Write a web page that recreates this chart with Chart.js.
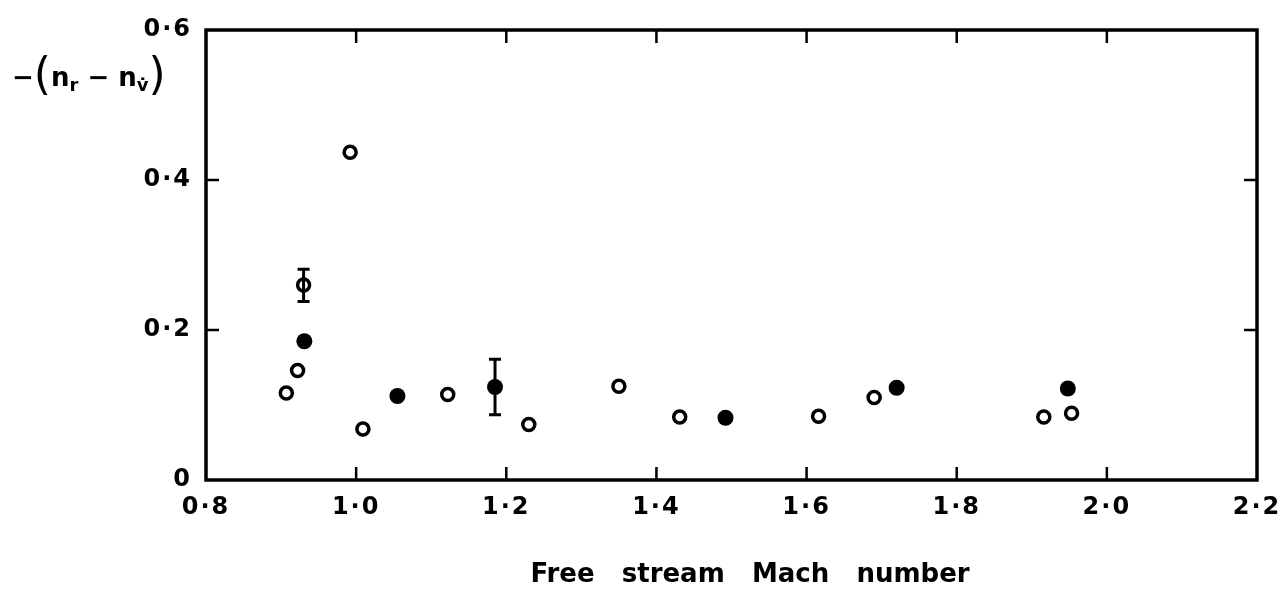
<!DOCTYPE html>
<html>
<head>
<meta charset="utf-8">
<script src="https://cdn.jsdelivr.net/npm/chart.js@4.4.1/dist/chart.umd.min.js"></script>
<style>
  body { margin: 0; background: #fff; }
  #wrap { position: relative; width: 1287px; height: 590px; }
  #ylab {
    position: absolute; left: 12px; top: 46px;
    font-family: "DejaVu Sans", sans-serif; font-weight: bold; font-size: 26px;
    color: #000; white-space: nowrap; line-height: 56px;
  }
  #ylab .par { font-size: 44px; font-weight: normal; vertical-align: -3px; }
  #ylab sub { font-size: 18px; vertical-align: -5px; }
</style>
</head>
<body>
<div id="wrap">
  <canvas id="chart" width="1287" height="590"></canvas>
  <div id="ylab">−<span class="par">(</span>n<sub>r</sub> − n<sub>v̇</sub><span class="par">)</span></div>
</div>
<script>
// data
const open_x = [0.907, 0.922, 0.930, 0.992, 1.009, 1.122, 1.230, 1.350, 1.431, 1.616, 1.690, 1.916, 1.953];
const open_y = [0.116, 0.146, 0.260, 0.437, 0.068, 0.114, 0.074, 0.125, 0.084, 0.085, 0.110, 0.084, 0.089];
const filled_x = [0.931, 1.055, 1.185, 1.492, 1.720, 1.948];
const filled_y = [0.185, 0.112, 0.124, 0.083, 0.123, 0.122];
// error bars: x, low, high
const err_x = [0.930, 1.185];
const err_lo = [0.238, 0.087];
const err_hi = [0.281, 0.161];
const x_ticks = [0.8, 1.0, 1.2, 1.4, 1.6, 1.8, 2.0, 2.2];
const y_ticks = [0, 0.2, 0.4, 0.6];
const x_title = 'Free   stream   Mach   number';

function fmt(v) {
  if (Math.abs(v) < 1e-9) return '0';
  return v.toFixed(1).replace('.', '·');
}

// frame, inward ticks, error bars and x title
const framePlugin = {
  id: 'frame',
  beforeDraw(chart) {
    // wider lettering for tick labels
    chart.ctx.letterSpacing = '2px';
  },
  afterDatasetsDraw(chart) {
    const ctx = chart.ctx;
    const a = chart.chartArea;
    const xs = chart.scales.x, ys = chart.scales.y;
    ctx.save();
    ctx.strokeStyle = '#000';
    ctx.lineWidth = 3.5;
    ctx.strokeRect(a.left, a.top, a.right - a.left, a.bottom - a.top);
    ctx.lineWidth = 2.5;
    const len = 13;
    x_ticks.slice(1, -1).forEach(v => {
      const px = xs.getPixelForValue(v);
      ctx.beginPath();
      ctx.moveTo(px, a.bottom); ctx.lineTo(px, a.bottom - len);
      ctx.moveTo(px, a.top); ctx.lineTo(px, a.top + len);
      ctx.stroke();
    });
    y_ticks.slice(1, -1).forEach(v => {
      const py = ys.getPixelForValue(v);
      ctx.beginPath();
      ctx.moveTo(a.left, py); ctx.lineTo(a.left + len, py);
      ctx.moveTo(a.right, py); ctx.lineTo(a.right - len, py);
      ctx.stroke();
    });
    // error bars
    ctx.lineWidth = 3;
    for (let i = 0; i < err_x.length; i++) {
      const px = xs.getPixelForValue(err_x[i]);
      const p1 = ys.getPixelForValue(err_lo[i]);
      const p2 = ys.getPixelForValue(err_hi[i]);
      ctx.beginPath();
      ctx.moveTo(px, p1); ctx.lineTo(px, p2);
      ctx.moveTo(px - 6, p1); ctx.lineTo(px + 6, p1);
      ctx.moveTo(px - 6, p2); ctx.lineTo(px + 6, p2);
      ctx.stroke();
    }
    // x axis title
    ctx.fillStyle = '#000';
    ctx.letterSpacing = '0px';
    ctx.font = 'bold 26px "DejaVu Sans"';
    ctx.textAlign = 'center';
    ctx.textBaseline = 'alphabetic';
    ctx.fillText(x_title, 750, 582);
    ctx.restore();
  }
};

const chart = new Chart(document.getElementById('chart'), {
  type: 'scatter',
  data: {
    datasets: [{
      label: 'open',
      data: open_x.map((x, i) => ({x: x, y: open_y[i]})),
      pointStyle: 'circle',
      pointRadius: 6,
      borderWidth: 3.5,
      borderColor: '#000',
      backgroundColor: '#fff'
    }, {
      label: 'filled',
      data: filled_x.map((x, i) => ({x: x, y: filled_y[i]})),
      pointStyle: 'circle',
      pointRadius: 8,
      borderWidth: 0,
      borderColor: '#000',
      backgroundColor: '#000'
    }]
  },
  options: {
    responsive: false,
    animation: false,
    devicePixelRatio: 1,
    layout: { padding: { top: 30, right: 30, left: 0, bottom: 0 } },
    plugins: { legend: { display: false }, tooltip: { enabled: false } },
    scales: {
      x: {
        type: 'linear', min: 0.8, max: 2.2,
        afterBuildTicks: s => { s.ticks = x_ticks.map(v => ({value: v})); },
        afterFit: s => { s.height = 110; s.paddingRight = 0; s.paddingLeft = 0; },
        grid: { display: false, drawTicks: false },
        border: { display: false },
        ticks: {
          padding: 13, color: '#000', maxRotation: 0,
          font: { family: 'DejaVu Sans', weight: 'bold', size: 24 },
          callback: v => fmt(v)
        }
      },
      y: {
        type: 'linear', min: 0, max: 0.6,
        afterBuildTicks: s => { s.ticks = y_ticks.map(v => ({value: v})); },
        afterFit: s => { s.width = 206; },
        grid: { display: false, drawTicks: false },
        border: { display: false },
        ticks: {
          padding: 14, color: '#000',
          font: { family: 'DejaVu Sans', weight: 'bold', size: 24 },
          callback: v => fmt(v)
        }
      }
    }
  },
  plugins: [framePlugin]
});
</script>
</body>
</html>
